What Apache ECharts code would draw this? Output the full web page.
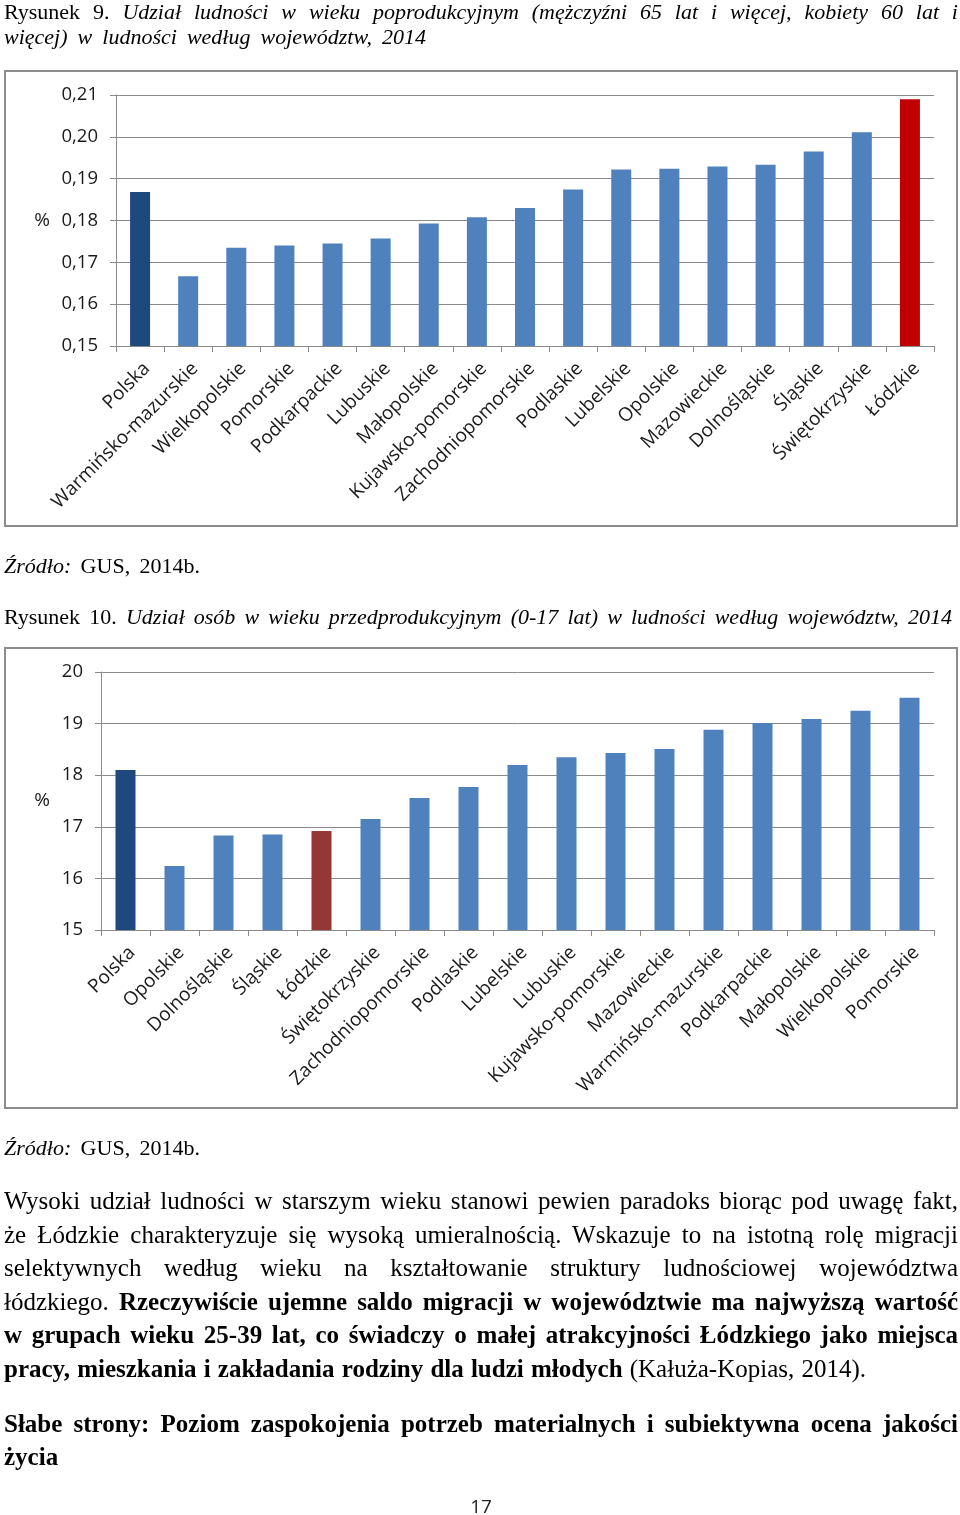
<!DOCTYPE html>
<html><head><meta charset="utf-8">
<script src="https://cdn.jsdelivr.net/npm/echarts@6/dist/echarts.min.js"></script>
<style>
html,body{margin:0;padding:0;background:#fff;}
body{width:960px;height:1515px;position:relative;overflow:hidden;}
#chart{position:absolute;left:0;top:0;width:960px;height:1515px;}
.box{position:absolute;box-sizing:border-box;border:2px solid #8c8c8c;}
.ln{position:absolute;left:4px;white-space:pre;font-family:"Liberation Serif","Times New Roman",serif;color:#000;line-height:1;transform-origin:0 0;}
.c{font-size:22px;}
.p{font-size:25px;}
i{font-style:italic;}
b{font-weight:bold;}
#pg{position:absolute;left:0;width:962px;text-align:center;font-family:"Open Sans",sans-serif;font-size:19px;line-height:1;color:#222;}
</style></head>
<body>
<div class="box" style="left:4px;top:70px;width:954px;height:457px;"></div>
<div class="box" style="left:4px;top:647px;width:954px;height:462px;"></div>
<div id="chart"></div>

<div class="ln c" data-b="19" data-w="954">Rysunek 9. <i>Udział ludności w wieku poprodukcyjnym (mężczyźni 65 lat i więcej, kobiety 60 lat i</i></div>
<div class="ln c" data-b="44" data-w="422"><i>więcej) w ludności według województw, 2014</i></div>
<div class="ln c" data-b="573" data-w="196"><i>Źródło:</i> GUS, 2014b.</div>
<div class="ln c" data-b="624" data-w="948">Rysunek 10. <i>Udział osób w wieku przedprodukcyjnym (0-17 lat) w ludności według województw, 2014</i></div>
<div class="ln c" data-b="1155" data-w="196"><i>Źródło:</i> GUS, 2014b.</div>

<div class="ln p" data-b="1209" data-w="954">Wysoki udział ludności w starszym wieku stanowi pewien paradoks biorąc pod uwagę fakt,</div>
<div class="ln p" data-b="1242.5" data-w="954">że Łódzkie charakteryzuje się wysoką umieralnością. Wskazuje to na istotną rolę migracji</div>
<div class="ln p" data-b="1276" data-w="954">selektywnych według wieku na kształtowanie struktury ludnościowej województwa</div>
<div class="ln p" data-b="1309.5" data-w="954">łódzkiego. <b>Rzeczywiście ujemne saldo migracji w województwie ma najwyższą wartość</b></div>
<div class="ln p" data-b="1343" data-w="954"><b>w grupach wieku 25-39 lat, co świadczy o małej atrakcyjności Łódzkiego jako miejsca</b></div>
<div class="ln p" data-b="1376.5" data-w="862"><b>pracy, mieszkania i zakładania rodziny dla ludzi młodych</b> (Kałuża-Kopias, 2014).</div>
<div class="ln p" data-b="1432" data-w="954"><b>Słabe strony: Poziom zaspokojenia potrzeb materialnych i subiektywna ocena jakości</b></div>
<div class="ln p" data-b="1465" data-w="0"><b>życia</b></div>
<div id="pg" style="top:1497px;">17</div>

<script>
// ---------- DATA ----------
const categories1 = ['Polska','Warmińsko-mazurskie','Wielkopolskie','Pomorskie','Podkarpackie','Lubuskie','Małopolskie','Kujawsko-pomorskie','Zachodniopomorskie','Podlaskie','Lubelskie','Opolskie','Mazowieckie','Dolnośląskie','Śląskie','Świętokrzyskie','Łódzkie'];
const values1 = [0.1868,0.1667,0.1735,0.1740,0.1745,0.1757,0.1793,0.1808,0.1830,0.1874,0.1922,0.1924,0.1929,0.1933,0.1965,0.2011,0.2090];
const yTicks1 = ['0,15','0,16','0,17','0,18','0,19','0,20','0,21'];

const categories2 = ['Polska','Opolskie','Dolnośląskie','Śląskie','Łódzkie','Świętokrzyskie','Zachodniopomorskie','Podlaskie','Lubelskie','Lubuskie','Kujawsko-pomorskie','Mazowieckie','Warmińsko-mazurskie','Podkarpackie','Małopolskie','Wielkopolskie','Pomorskie'];
const values2 = [18.10,16.24,16.83,16.85,16.92,17.15,17.56,17.77,18.20,18.35,18.43,18.51,18.88,19.01,19.09,19.25,19.50];
const yTicks2 = ['15','16','17','18','19','20'];

// ---------- TEXT FITTING ----------
function fitLines(){
  document.querySelectorAll('.ln').forEach(el=>{
    const fs = parseFloat(getComputedStyle(el).fontSize);
    const b = parseFloat(el.dataset.b);
    el.style.top = (b - 0.8375*fs) + 'px';
    const target = parseFloat(el.dataset.w);
    if(!target) return;
    const w = el.getBoundingClientRect().width;
    const spaces = (el.textContent.match(/ /g)||[]).length;
    if (w < target && spaces) el.style.wordSpacing = ((target - w)/spaces) + 'px';
    else if (w > target) el.style.transform = 'scaleX(' + (target/w) + ')';
  });
}

// ---------- CHART ----------
const GRID_COL = '#8a8a8a';
const TXT = '#1a1a1a';
const FONT = '"Open Sans", sans-serif';
function barColor(name, redCol){
  if(name === 'Polska') return '#1F497D';
  if(name === 'Łódzkie') return redCol;
  return '#4F81BD';
}
function xAxis(gi, cats){
  return {type:'category', gridIndex:gi, data:cats,
    axisLine:{show:true, lineStyle:{color:GRID_COL, width:1}},
    axisTick:{show:true, length:6, lineStyle:{color:GRID_COL}},
    axisLabel:{rotate:45, interval:0, margin:13, align:'right', verticalAlign:'top',
      fontSize:19, color:TXT, fontFamily:FONT}};
}
function yAxis(gi, min, max, interval, ticks, gap){
  return {type:'value', gridIndex:gi, min:min, max:max, interval:interval,
    axisLine:{show:true, lineStyle:{color:GRID_COL, width:1}},
    axisTick:{show:true, length:6, lineStyle:{color:GRID_COL}},
    splitLine:{show:true, lineStyle:{color:GRID_COL, width:1}},
    axisLabel:{margin:18, fontSize:18.5, color:TXT, fontFamily:FONT,
      formatter:v => ticks[Math.round((v-min)/interval)]},
    name:'%', nameLocation:'middle', nameRotate:0, nameGap:gap,
    nameTextStyle:{fontSize:19, color:TXT, fontFamily:FONT}};
}
function render(){
  const chart = echarts.init(document.getElementById('chart'), null, {renderer:'canvas'});
  chart.setOption({
    animation:false,
    textStyle:{fontFamily:FONT},
    grid:[
      {left:116, top:95, width:818, height:251},
      {left:101, top:672, width:833, height:258}
    ],
    xAxis:[xAxis(0, categories1), xAxis(1, categories2)],
    yAxis:[yAxis(0, 0.15, 0.21, 0.01, yTicks1, 66), yAxis(1, 15, 20, 1, yTicks2, 51)],
    series:[
      {type:'bar', xAxisIndex:0, yAxisIndex:0, barWidth:20,
       data:values1.map((v,i)=>({value:v, itemStyle:{color:barColor(categories1[i], '#C00000')}}))},
      {type:'bar', xAxisIndex:1, yAxisIndex:1, barWidth:20,
       data:values2.map((v,i)=>({value:v, itemStyle:{color:barColor(categories2[i], '#953735')}}))}
    ]
  });
}
(document.fonts && document.fonts.ready ? document.fonts.ready : Promise.resolve()).then(()=>{
  fitLines();
  render();
});
</script>
</body></html>
